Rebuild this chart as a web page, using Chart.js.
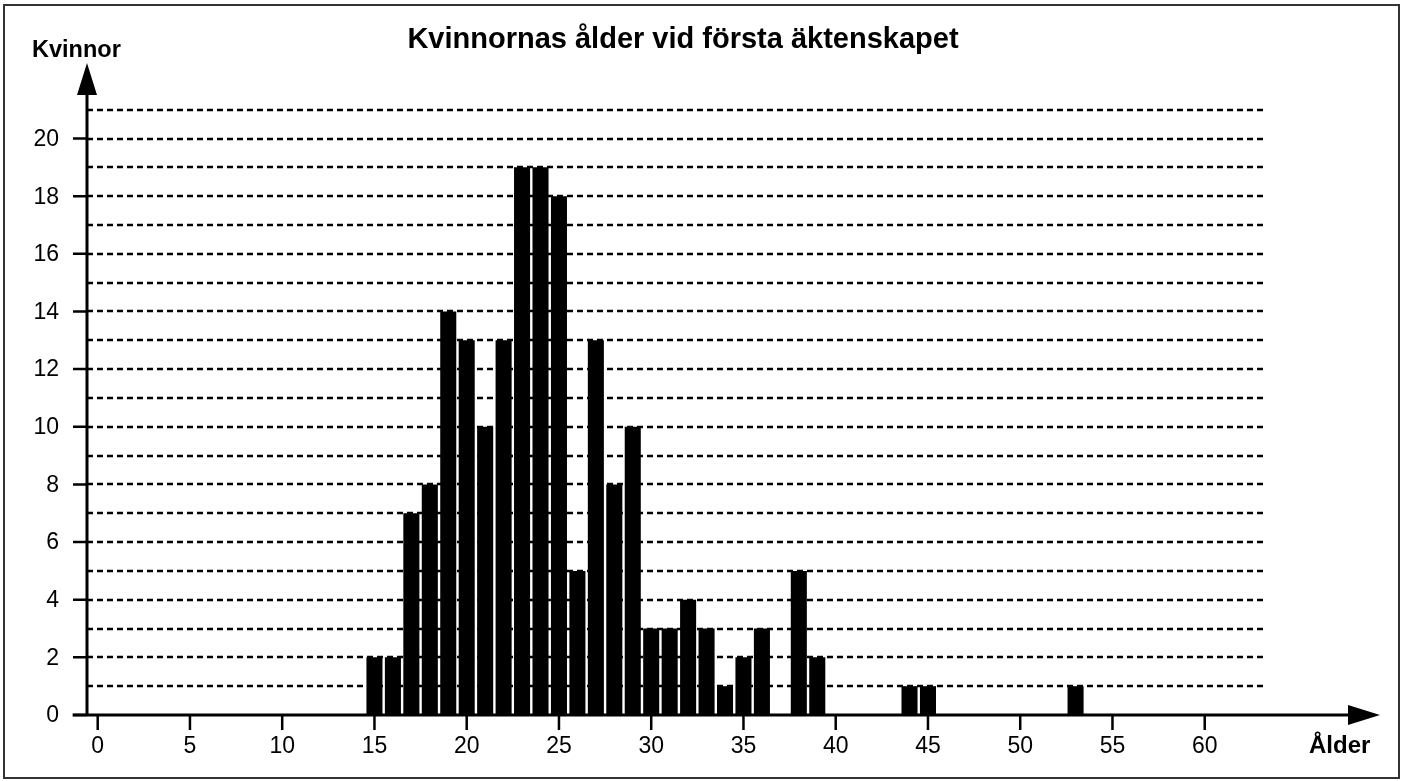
<!DOCTYPE html>
<html>
<head>
<meta charset="utf-8">
<title>Kvinnornas ålder vid första äktenskapet</title>
<script src="https://cdn.jsdelivr.net/npm/chart.js@4.4.1/dist/chart.umd.min.js"></script>
<style>
    body { margin: 0; background: #fff; }
    canvas { display: block; }
</style>
</head>
<body>
<canvas id="chart" width="1402" height="781"></canvas>
<script>
// data: age at first marriage -> number of women
const ages = [15, 16, 17, 18, 19, 20, 21, 22, 23, 24, 25, 26, 27, 28, 29, 30, 31, 32, 33, 34, 35, 36, 38, 39, 44, 45, 53];
const counts = [2, 2, 7, 8, 14, 13, 10, 13, 19, 19, 18, 5, 13, 8, 10, 3, 3, 4, 3, 1, 2, 3, 5, 2, 1, 1, 1];

const xTickLabels = [0, 5, 10, 15, 20, 25, 30, 35, 40, 45, 50, 55, 60];
const yTickLabels = [0, 2, 4, 6, 8, 10, 12, 14, 16, 18, 20];
const gridLevels = [1, 2, 3, 4, 5, 6, 7, 8, 9, 10, 11, 12, 13, 14, 15, 16, 17, 18, 19, 20, 21];

const titleText = "Kvinnornas ålder vid första äktenskapet";
const yAxisTitle = "Kvinnor";
const xAxisTitle = "Ålder";

const FONT = '"Liberation Sans", Arial, sans-serif';

// x range of the axis (y axis sits at xMin), where the dashed lines stop
const xMin = -0.58, xMax = 69.5, gridEnd = 63.25, xAxisStart = -1.36;
const yMax = 22.62;

const axesPlugin = {
    id: 'axes',
    beforeDatasetsDraw(chart) {
        const ctx = chart.ctx;
        const x = chart.scales.x, y = chart.scales.y;
        ctx.save();
        ctx.strokeStyle = '#000';
        ctx.lineWidth = 2.5;
        ctx.setLineDash([6, 4]);
        gridLevels.forEach(v => {
            const py = Math.round(y.getPixelForValue(v));
            ctx.beginPath();
            ctx.moveTo(x.getPixelForValue(xMin), py);
            ctx.lineTo(x.getPixelForValue(gridEnd), py);
            ctx.stroke();
        });
        ctx.restore();
    },
    afterDatasetsDraw(chart) {
        const ctx = chart.ctx;
        const x = chart.scales.x, y = chart.scales.y;
        const x0 = x.getPixelForValue(xMin);
        const y0 = y.getPixelForValue(0);
        const top = y.getPixelForValue(yMax);
        const right = x.getPixelForValue(xMax);

        ctx.save();
        ctx.strokeStyle = '#000';
        ctx.fillStyle = '#000';

        // axis lines
        ctx.lineWidth = 3;
        ctx.beginPath();
        ctx.moveTo(x0, y0 + 1);
        ctx.lineTo(x0, top + 30);
        ctx.moveTo(x.getPixelForValue(xAxisStart), y0);
        ctx.lineTo(right - 30, y0);
        ctx.stroke();

        // arrow heads
        ctx.beginPath();
        ctx.moveTo(x0, top);
        ctx.lineTo(x0 - 10, top + 32);
        ctx.lineTo(x0 + 10, top + 32);
        ctx.closePath();
        ctx.fill();
        ctx.beginPath();
        ctx.moveTo(right, y0);
        ctx.lineTo(right - 32, y0 - 10);
        ctx.lineTo(right - 32, y0 + 10);
        ctx.closePath();
        ctx.fill();

        // tick marks
        ctx.lineWidth = 2.5;
        ctx.beginPath();
        yTickLabels.forEach(v => {
            const py = y.getPixelForValue(v);
            ctx.moveTo(x0 - 14, py);
            ctx.lineTo(x0, py);
        });
        xTickLabels.forEach(v => {
            const px = x.getPixelForValue(v);
            ctx.moveTo(px, y0);
            ctx.lineTo(px, y0 + 15);
        });
        ctx.stroke();

        // tick labels
        ctx.font = '23px ' + FONT;
        ctx.textAlign = 'right';
        ctx.textBaseline = 'middle';
        yTickLabels.forEach(v => {
            ctx.fillText(String(v), x0 - 28, y.getPixelForValue(v) + 1);
        });
        ctx.textAlign = 'center';
        ctx.textBaseline = 'alphabetic';
        xTickLabels.forEach(v => {
            ctx.fillText(String(v), x.getPixelForValue(v), y0 + 38);
        });

        // titles
        ctx.font = 'bold 29px ' + FONT;
        ctx.textAlign = 'center';
        ctx.fillText(titleText, 683, 48);
        ctx.font = 'bold 23.5px ' + FONT;
        ctx.textAlign = 'left';
        ctx.fillText(yAxisTitle, 32, 57);
        ctx.font = 'bold 24px ' + FONT;
        ctx.fillText(xAxisTitle, 1309, 753);

        // outer frame
        ctx.lineWidth = 2;
        ctx.strokeStyle = '#333';
        ctx.strokeRect(4, 5, 1395, 773);
        ctx.restore();
    }
};

const ctx = document.getElementById('chart').getContext('2d');
const myChart = new Chart(ctx, {
    type: 'bar',
    data: {
        datasets: [{
            data: ages.map((a, i) => ({ x: a, y: counts[i] })),
            backgroundColor: '#000',
            borderWidth: 0,
            categoryPercentage: 1,
            barPercentage: 0.87
        }]
    },
    options: {
        responsive: false,
        animation: false,
        devicePixelRatio: 1,
        layout: {
            padding: { left: 87, right: 22, top: 63, bottom: 66 }
        },
        plugins: {
            legend: { display: false },
            title: { display: false },
            tooltip: { enabled: false }
        },
        scales: {
            x: { type: 'linear', min: xMin, max: xMax, offset: false, display: false },
            y: { type: 'linear', min: 0, max: yMax, display: false }
        }
    },
    plugins: [axesPlugin]
});
</script>
</body>
</html>
